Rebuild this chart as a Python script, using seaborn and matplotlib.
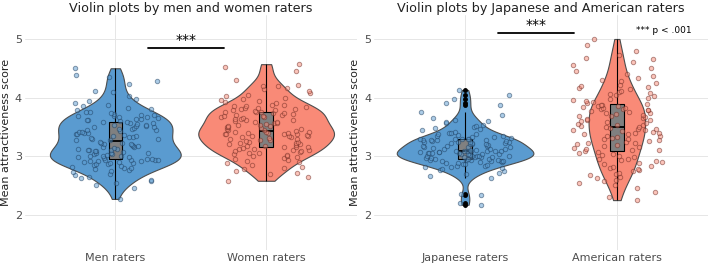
import numpy as np
import pandas as pd
import matplotlib
matplotlib.use('Agg')
import matplotlib.pyplot as plt
import seaborn as sns

men = [2.27, 2.45, 2.5, 2.55, 2.58, 2.6, 2.62, 2.65, 2.68, 2.7,
       2.73, 2.75, 2.76, 2.78, 2.8, 2.8, 2.82, 2.83, 2.85, 2.86, 2.87, 2.88, 2.89, 2.9, 2.9,
       2.91, 2.92, 2.92, 2.93, 2.93, 2.94, 2.94,
       2.95, 2.96, 2.97, 2.98, 2.99, 3.0, 3.0, 3.01, 3.02, 3.03, 3.04, 3.05, 3.05, 3.06, 3.07,
       3.08, 3.09, 3.1, 3.1, 3.11, 3.12, 3.13, 3.14, 3.15, 3.16, 3.17, 3.18, 3.19, 3.2, 3.21,
       3.22, 3.23, 3.25,
       3.27, 3.28, 3.29, 3.3, 3.31, 3.32, 3.33, 3.34, 3.35, 3.36, 3.37, 3.38, 3.39, 3.4, 3.41,
       3.42, 3.43, 3.44, 3.45, 3.46, 3.47, 3.48, 3.49, 3.5, 3.51, 3.52, 3.53, 3.54, 3.55, 3.56,
       3.57, 3.58, 3.58,
       3.6, 3.61, 3.62, 3.63, 3.64, 3.65, 3.66, 3.67, 3.68, 3.69, 3.7, 3.71, 3.72, 3.74, 3.75,
       3.76, 3.78, 3.8, 3.82, 3.85, 3.88, 3.9, 3.94, 3.97, 4.03, 4.1, 4.12, 4.23, 4.29, 4.35,
       4.38, 4.5]
women = [2.58, 2.65, 2.7, 2.72, 2.75, 2.78, 2.8, 2.82, 2.85, 2.88, 2.9, 2.92, 2.94, 2.95, 2.97,
         2.98, 3.0, 3.01, 3.02, 3.04, 3.05, 3.06, 3.07, 3.08, 3.09, 3.1, 3.11, 3.12, 3.13, 3.14,
         3.15, 3.15,
         3.16, 3.17, 3.18, 3.19, 3.2, 3.21, 3.22, 3.23, 3.24, 3.25, 3.26, 3.27, 3.28, 3.29, 3.3,
         3.31, 3.32, 3.33, 3.34, 3.35, 3.35, 3.36, 3.37, 3.37, 3.38, 3.38, 3.39, 3.4, 3.4, 3.41,
         3.42, 3.42, 3.43,
         3.44, 3.45, 3.46, 3.47, 3.48, 3.49, 3.5, 3.51, 3.52, 3.53, 3.54, 3.55, 3.56, 3.57, 3.58,
         3.59, 3.6, 3.61, 3.62, 3.63, 3.64, 3.65, 3.66, 3.67, 3.68, 3.69, 3.7, 3.71, 3.72, 3.73,
         3.74, 3.75, 3.75,
         3.76, 3.77, 3.78, 3.79, 3.8, 3.81, 3.82, 3.83, 3.84, 3.85, 3.86, 3.87, 3.88, 3.9, 3.92,
         3.94, 3.96, 3.98, 4.0, 4.02, 4.05, 4.08, 4.12, 4.15, 4.17, 4.2, 4.2, 4.22, 4.3, 4.45,
         4.53, 4.57]
japanese = [2.17, 2.2, 2.33, 2.35, 2.63, 2.66, 2.7, 2.72, 2.74, 2.76, 2.78, 2.8, 2.81, 2.82,
            2.83, 2.84, 2.85, 2.86, 2.87, 2.88, 2.89, 2.9, 2.9, 2.91, 2.91, 2.92, 2.92, 2.93,
            2.93, 2.94, 2.94, 2.95,
            2.96, 2.96, 2.97, 2.97, 2.98, 2.98, 2.99, 2.99, 3.0, 3.0, 3.0, 3.01, 3.01, 3.02, 3.02,
            3.03, 3.03, 3.04, 3.04, 3.05, 3.05, 3.06, 3.06, 3.07, 3.07, 3.07, 3.08, 3.08, 3.08,
            3.09, 3.09, 3.09, 3.09,
            3.1, 3.11, 3.12, 3.12, 3.13, 3.14, 3.15, 3.15, 3.16, 3.17, 3.18, 3.18, 3.19, 3.2, 3.2,
            3.21, 3.22, 3.22, 3.23, 3.24, 3.24, 3.25, 3.25, 3.26, 3.26, 3.27, 3.27, 3.28, 3.28,
            3.29, 3.29, 3.29, 3.29,
            3.3, 3.31, 3.32, 3.33, 3.34, 3.35, 3.36, 3.37, 3.38, 3.39, 3.4, 3.42, 3.44, 3.46, 3.48,
            3.5, 3.52, 3.54, 3.56, 3.58, 3.6, 3.62, 3.65, 3.7, 3.75, 3.87, 3.9, 3.98, 4.05, 4.13]
american = [2.25, 2.3, 2.38, 2.45, 2.5, 2.55, 2.58, 2.6, 2.63, 2.65, 2.68, 2.7, 2.72, 2.74,
            2.76, 2.78, 2.8, 2.82, 2.84, 2.86, 2.88, 2.9, 2.92, 2.93, 2.95, 2.96, 2.98, 3.0,
            3.02, 3.03, 3.05, 3.07,
            3.08, 3.1, 3.11, 3.13, 3.14, 3.16, 3.17, 3.19, 3.2, 3.22, 3.23, 3.24, 3.26, 3.27,
            3.29, 3.3, 3.31, 3.33, 3.34, 3.35, 3.37, 3.38, 3.39, 3.4, 3.42, 3.43, 3.44, 3.45,
            3.46, 3.47, 3.48, 3.49, 3.5,
            3.51, 3.53, 3.54, 3.55, 3.57, 3.58, 3.6, 3.61, 3.62, 3.64, 3.65, 3.66, 3.68, 3.69,
            3.7, 3.72, 3.73, 3.74, 3.75, 3.77, 3.78, 3.79, 3.8, 3.81, 3.82, 3.83, 3.84, 3.85,
            3.86, 3.87, 3.88, 3.89, 3.9,
            3.92, 3.94, 3.96, 3.98, 4.0, 4.02, 4.04, 4.06, 4.08, 4.1, 4.12, 4.14, 4.16, 4.18,
            4.2, 4.22, 4.25, 4.28, 4.3, 4.33, 4.36, 4.4, 4.45, 4.5, 4.55, 4.6, 4.65, 4.68, 4.72,
            4.8, 4.9, 5.0]

left_labels = ['Men raters', 'Women raters']
right_labels = ['Japanese raters', 'American raters']
titles = ['Violin plots by men and women raters', 'Violin plots by Japanese and American raters']
fill_colors = ['#5A9BD0', '#F98A77']
point_edges = ['#1d3d5e', '#6e2a22']

sns.set_theme(style='whitegrid')
plt.rcParams['font.family'] = ['DejaVu Sans']
np.random.seed(3)


def make_df(a, b, labels):
    return pd.DataFrame({'group': [labels[0]] * len(a) + [labels[1]] * len(b),
                         'score': a + b})


fig = plt.figure(figsize=(7.09, 2.67), dpi=100)
ax1 = fig.add_axes([0.035, 0.064, 0.468, 0.88])
ax2 = fig.add_axes([0.5275, 0.064, 0.471, 0.88])
panels = [(ax1, make_df(men, women, left_labels), left_labels, titles[0]),
          (ax2, make_df(japanese, american, right_labels), right_labels, titles[1])]

# violins first, one shared density scale per panel (like ggplot's scale = "area")
for ax, df, labels, title in panels:
    pal = dict(zip(labels, fill_colors))
    sns.violinplot(data=df, x='group', y='score', hue='group', order=labels, palette=pal,
                   inner=None, cut=0, density_norm='area', common_norm=True,
                   bw_method='silverman', bw_adjust=0.8, width=0.9, linewidth=0.8,
                   linecolor='#4d4d4d', saturation=1, legend=False, ax=ax)

for ax, df, labels, title in panels:
    sns.boxplot(data=df, x='group', y='score', order=labels, color='#808080', saturation=1,
                width=0.09, linewidth=0.8, linecolor='black', whis=1.5, fliersize=2.5,
                flierprops=dict(marker='o', markerfacecolor='black', markeredgecolor='black'),
                medianprops=dict(color='black', linewidth=1.3),
                capprops=dict(linewidth=0), ax=ax)
    for lab, fc, ec in zip(labels, fill_colors, point_edges):
        sub = df[df['group'] == lab]
        sns.stripplot(data=sub, x='group', y='score', order=labels, color=fc,
                      jitter=0.3, size=3.2, alpha=0.5, linewidth=0.7, edgecolor=ec, ax=ax)
    ax.set_xlim(-0.6, 1.6)
    ax.set_ylim(1.4, 5.41)
    ax.set_yticks([2, 3, 4, 5])
    ax.set_xlabel('')
    ax.set_ylabel('Mean attractiveness score', fontsize=8, color='#222222', labelpad=3)
    ax.set_title(title, fontsize=9.2, color='#222222', pad=2)
    ax.tick_params(axis='both', labelsize=8, labelcolor='#4d4d4d', length=0, pad=2)
    ax.grid(True, color='#e6e6e6', linewidth=0.7)
    ax.set_axisbelow(True)
    for s in ax.spines.values():
        s.set_visible(False)

# significance bars
ax1.plot([0.22, 0.72], [4.85, 4.85], color='black', linewidth=1.3)
ax1.text(0.47, 4.87, '***', ha='center', va='bottom', fontsize=10, color='black')
ax2.plot([0.22, 0.72], [5.10, 5.10], color='black', linewidth=1.3)
ax2.text(0.47, 5.12, '***', ha='center', va='bottom', fontsize=10, color='black')
ax2.text(1.31, 5.14, '*** p < .001', ha='center', va='center', fontsize=6.5, color='black')

fig.savefig('out.png', dpi=100)
